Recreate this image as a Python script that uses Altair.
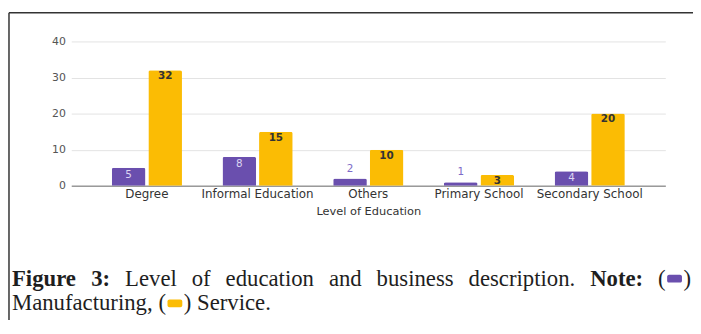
import altair as alt
import pandas as pd

# ---- data ----
levels = ["Degree", "Informal Education", "Others", "Primary School", "Secondary School"]
manufacturing = [5, 8, 2, 1, 4]
service = [32, 15, 10, 3, 20]
series_names = ["Manufacturing", "Service"]
series_colors = ["#6a4fae", "#fbbc04"]
y_ticks = [0, 10, 20, 30, 40]

rows = []
for lvl, m, s in zip(levels, manufacturing, service):
    rows.append({"level": lvl, "series": "Manufacturing", "value": m})
    rows.append({"level": lvl, "series": "Service", "value": s})
df = pd.DataFrame(rows)

W, H = 601, 146
OX, OY = 72, 40  # page offset of plot origin (8px margin + padding)

x_enc = alt.X("level:N", sort=levels,
              scale=alt.Scale(paddingInner=0.366, paddingOuter=0.366),
              axis=alt.Axis(title="Level of Education", labelAngle=0, ticks=False,
                            labelPadding=3, labelFontSize=12, labelColor="#333",
                            labelFont="DejaVu Sans", titleFont="DejaVu Sans",
                            titleFontSize=11.5, titleFontWeight="normal", titleColor="#333",
                            titlePadding=6, domainColor="#9a9a9a", domainWidth=1.3))
xo_enc = alt.XOffset("series:N", sort=series_names,
                     scale=alt.Scale(paddingInner=0.08, paddingOuter=0))
y_enc = alt.Y("value:Q", scale=alt.Scale(domain=[0, 40], nice=False),
              axis=alt.Axis(title=None, values=y_ticks, grid=True, gridColor="#e3e3e3",
                            domain=False, ticks=False, labelPadding=6, labelFontSize=11,
                            labelColor="#555", labelFont="DejaVu Sans"))

base = alt.Chart(df).encode(x=x_enc, xOffset=xo_enc, y=y_enc)

bars = base.mark_bar(cornerRadiusTopLeft=2, cornerRadiusTopRight=2).encode(
    color=alt.Color("series:N", scale=alt.Scale(domain=series_names, range=series_colors),
                    legend=None))

svc_labels = base.transform_filter(alt.datum.series == "Service").mark_text(
    baseline="middle", dy=6, font="DejaVu Sans", fontSize=10.5, fontWeight="bold",
    color="#333").encode(text="value:Q")
man_in = base.transform_filter(
    (alt.datum.series == "Manufacturing") & (alt.datum.value >= 3)).mark_text(
    baseline="middle", dy=7, font="DejaVu Sans", fontSize=10.5,
    color="#dcd5f2").encode(text="value:Q")
man_out = base.transform_filter(
    (alt.datum.series == "Manufacturing") & (alt.datum.value < 3)).mark_text(
    baseline="middle", dy=-10, font="DejaVu Sans", fontSize=10.5,
    color="#7d6bc8").encode(text="value:Q")

one = alt.Data(values=[{}])

# ---- frame ----
frame_left = alt.Chart(one).mark_rule(color="#333", strokeWidth=1.5).encode(
    x=alt.value(9 - OX), y=alt.value(11 - OY), y2=alt.value(334 - OY))
frame_top = alt.Chart(one).mark_rule(color="#333", strokeWidth=1.5).encode(
    x=alt.value(9 - OX), x2=alt.value(701 - OX), y=alt.value(11 - OY))

# ---- caption (justified first line) ----
TR = {" ": .25, "(": .333, ")": .333, ".": .25, ",": .25, ":": .278, "L": .611, "e": .444,
      "v": .5, "l": .278, "o": .5, "f": .333, "d": .5, "u": .5, "c": .444, "a": .444,
      "t": .278, "i": .278, "n": .5, "b": .5, "s": .389, "r": .333, "p": .5, "M": .889,
      "g": .5, "S": .556}
TB = {"F": .611, "i": .278, "g": .5, "u": .556, "r": .444, "e": .444, "3": .5, ":": .333,
      "N": .722, "o": .5, "t": .333, " ": .25}
FS = 23
SERIF = "Liberation Serif"


def tw(s, bold):
    t = TB if bold else TR
    return sum(t[c] for c in s) * FS


KEYW = 15
caption_layers = []


def word(s, x, y, bold=False):
    return alt.Chart(one).mark_text(
        text=s, align="left", baseline="alphabetic", font=SERIF, fontSize=FS,
        fontWeight="bold" if bold else "normal", color="#1e1e1e").encode(
        x=alt.value(x - OX), y=alt.value(y - OY))


def key(color, x, y):
    parts = [word("(", x, y)]
    rx = x + tw("(", False) + 1.5
    parts.append(alt.Chart(one).mark_rect(color=color, cornerRadius=2).encode(
        x=alt.value(rx - OX), x2=alt.value(rx + KEYW - OX),
        y=alt.value(y - 11 - OY), y2=alt.value(y - 3 - OY)))
    parts.append(word(")", rx + KEYW + 1.5, y))
    return parts


key_width = 2 * tw("(", False) + KEYW + 3
line1 = [("Figure", True), ("3:", True), ("Level", False), ("of", False),
         ("education", False), ("and", False), ("business", False),
         ("description.", False), ("Note:", True), (None, None)]
L1Y, L2Y = 287, 312
left, right = 12, 699
widths = [key_width if w is None else tw(w, b) for w, b in line1]
gap = (right - left - sum(widths)) / (len(line1) - 1)
x = left
for (w, b), wd in zip(line1, widths):
    if w is None:
        caption_layers += key(series_colors[0], x, L1Y)
    else:
        caption_layers.append(word(w, x, L1Y, b))
    x += wd + gap

x = left
caption_layers.append(word("Manufacturing,", x, L2Y))
x += tw("Manufacturing, ", False)
caption_layers += key(series_colors[1], x, L2Y)
x += key_width + tw(" ", False)
caption_layers.append(word("Service.", x, L2Y))

chart = alt.layer(bars, svc_labels, man_in, man_out, frame_left, frame_top,
                  *caption_layers).properties(
    width=W, height=H,
    autosize=alt.AutoSizeParams(type="none"),
    padding={"left": 64, "top": 32, "right": 28, "bottom": 134},
    background="white",
).configure_view(stroke=None)

chart.save("out.html", embed_options={"renderer": "svg", "actions": False})
